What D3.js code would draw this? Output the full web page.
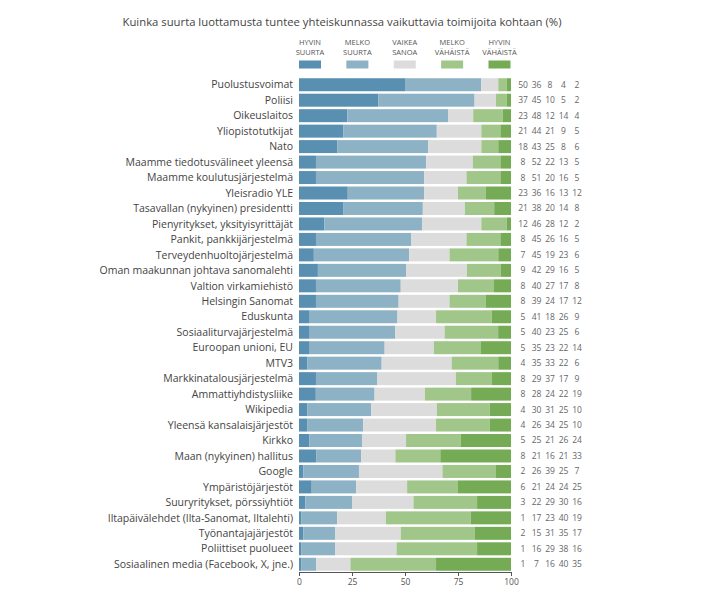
<!DOCTYPE html>
<html><head><meta charset="utf-8">
<script src="https://cdn.jsdelivr.net/npm/d3@7"></script>
<style>body{margin:0;background:#fff;} text{font-family:"Open Sans",sans-serif;}</style>
</head><body><svg id="c" width="720" height="596"></svg>
<script>
const categories = ["Puolustusvoimat","Poliisi","Oikeuslaitos","Yliopistotutkijat","Nato","Maamme tiedotusvälineet yleensä","Maamme koulutusjärjestelmä","Yleisradio YLE","Tasavallan (nykyinen) presidentti","Pienyritykset, yksityisyrittäjät","Pankit, pankkijärjestelmä","Terveydenhuoltojärjestelmä","Oman maakunnan johtava sanomalehti","Valtion virkamiehistö","Helsingin Sanomat","Eduskunta","Sosiaaliturvajärjestelmä","Euroopan unioni, EU","MTV3","Markkinatalousjärjestelmä","Ammattiyhdistysliike","Wikipedia","Yleensä kansalaisjärjestöt","Kirkko","Maan (nykyinen) hallitus","Google","Ympäristöjärjestöt","Suuryritykset, pörssiyhtiöt","Iltapäivälehdet (Ilta-Sanomat, Iltalehti)","Työnantajajärjestöt","Poliittiset puolueet","Sosiaalinen media (Facebook, X, jne.)"];
const seriesNames = [["HYVIN","SUURTA"],["MELKO","SUURTA"],["VAIKEA","SANOA"],["MELKO","VÄHÄISTÄ"],["HYVIN","VÄHÄISTÄ"]];
const hyvinSuurta   = [50,37,23,21,18,8,8,23,21,12,8,7,9,8,8,5,5,5,4,8,8,4,4,5,8,2,6,3,1,2,1,1];
const melkoSuurta   = [36,45,48,44,43,52,51,36,38,46,45,45,42,40,39,41,40,35,35,29,28,30,26,25,21,26,21,22,17,15,16,7];
const vaikeaSanoa   = [8,10,12,21,25,22,20,16,20,28,26,19,29,27,24,18,23,23,33,37,24,31,34,21,16,39,24,29,23,31,29,16];
const melkoVahaista = [4,5,14,9,8,13,16,13,14,12,16,23,16,17,17,26,25,22,22,17,22,25,25,26,21,25,24,30,40,35,38,40];
const hyvinVahaista = [2,2,4,5,6,5,5,12,8,2,5,6,5,8,12,9,6,14,6,9,19,10,10,24,33,7,25,16,19,17,16,35];
const xTicks = [0,25,50,75,100];
const colors = ["#598fb0","#8db2c5","#dcdcdc","#a1c689","#74ab54"];

const keys = ["a","b","c","d","e"];
const rows = categories.map((c,i)=>({cat:c,a:hyvinSuurta[i],b:melkoSuurta[i],c:vaikeaSanoa[i],d:melkoVahaista[i],e:hyvinVahaista[i]}));
const stack = d3.stack().keys(keys).offset(d3.stackOffsetExpand)(rows);

const svg = d3.select("#c");
const x = d3.scaleLinear().domain([0,1]).range([299,511]);
const xa = d3.scaleLinear().domain([0,100]).range([299,511]);
const y = d3.scaleBand().domain(categories).range([77,572]).paddingInner(0.16).paddingOuter(0.08);

svg.append("text").attr("x",342).attr("y",26).attr("text-anchor","middle")
  .attr("font-size",11.3).attr("fill","#444").text("Kuinka suurta luottamusta tuntee yhteiskunnassa vaikuttavia toimijoita kohtaan (%)");

// legend
const lx = d3.scalePoint().domain(keys).range([310,499.5]);
const lg = svg.append("g");
keys.forEach((k,i)=>{
  const g = lg.append("g").attr("transform",`translate(${lx(k)},0)`);
  g.append("text").attr("y",45).attr("text-anchor","middle").attr("font-size",7.5).attr("fill","#555").text(seriesNames[i][0]);
  g.append("text").attr("y",54.5).attr("text-anchor","middle").attr("font-size",7.5).attr("fill","#555").text(seriesNames[i][1]);
  g.append("rect").attr("x",-11).attr("y",60.5).attr("width",22).attr("height",8).attr("fill",colors[i]);
});

// bars
svg.append("g").selectAll("g").data(stack).join("g").attr("fill",(d,i)=>colors[i])
  .selectAll("rect").data(d=>d).join("rect")
  .attr("x",d=>x(d[0])).attr("width",d=>x(d[1])-x(d[0]))
  .attr("y",d=>y(d.data.cat)).attr("height",y.bandwidth());

// category labels
svg.append("g").selectAll("text").data(categories).join("text")
  .attr("x",293).attr("y",d=>y(d)+y.bandwidth()/2).attr("dy","0.35em")
  .attr("text-anchor","end").attr("font-size",10.5).attr("fill","#444").text(d=>d);

// value columns
const vx = d3.scalePoint().domain(keys).range([523,577]);
const vg = svg.append("g");
rows.forEach(r=>{
  keys.forEach(k=>{
    vg.append("text").attr("x",vx(k)).attr("y",y(r.cat)+y.bandwidth()/2).attr("dy","0.35em")
      .attr("text-anchor","middle").attr("font-size",8.5).attr("fill","#666").text(r[k]);
  });
});

// axis
const ax = svg.append("g").attr("transform","translate(0,572)")
  .call(d3.axisBottom(xa).tickValues(xTicks).tickSize(4).tickSizeOuter(0));
ax.selectAll("text").attr("font-size",8.5).attr("fill","#555").attr("font-family","Open Sans, sans-serif");
ax.selectAll("line,path").attr("stroke","#555");
</script></body></html>
